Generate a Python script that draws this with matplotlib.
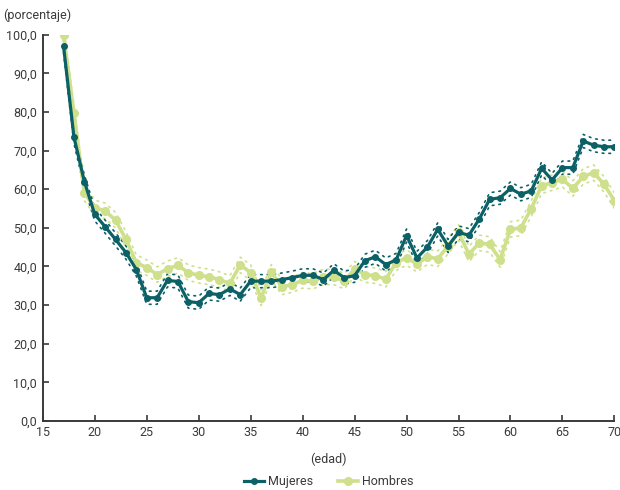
import numpy as np
import matplotlib
matplotlib.use("Agg")
import matplotlib.pyplot as plt
from matplotlib.ticker import FuncFormatter

plt.rcParams['font.family'] = ['Roboto', 'DejaVu Sans']

edad = list(range(17, 71))

mujeres = [97.0, 73.5, 62.0, 53.5, 50.3, 47.0, 43.6, 39.2, 31.9, 31.9,
           36.4, 36.1, 30.9, 30.6, 33.0, 32.7, 34.2, 32.7, 36.2, 36.2,
           36.2, 36.6, 37.1, 37.7, 37.7, 36.6, 39.0, 37.1, 37.6, 41.5,
           42.5, 40.5, 41.7, 48.0, 42.2, 45.0, 49.6, 45.3, 48.8, 48.1,
           52.3, 57.4, 57.8, 60.2, 58.7, 59.6, 65.4, 62.4, 65.6, 65.6,
           72.5, 71.4, 71.0, 71.0]

hombres = [100.0, 79.7, 59.1, 55.2, 54.4, 52.0, 47.0, 41.0, 39.7, 37.9,
           39.4, 40.3, 38.4, 37.7, 37.3, 36.6, 35.6, 40.4, 38.4, 31.9,
           38.5, 34.7, 35.3, 36.4, 36.2, 37.3, 37.3, 36.2, 39.3, 37.9,
           37.6, 36.7, 41.0, 42.3, 40.6, 42.5, 42.0, 45.3, 48.8, 43.2,
           46.1, 45.7, 41.8, 49.6, 50.0, 55.0, 60.9, 61.7, 62.6, 60.2,
           63.3, 64.3, 61.3, 57.0]

# half width of the confidence band
ic_mujeres = 1.7
ic_hombres = 2.0

c_muj = '#0b6166'
c_hom = '#cfe08c'
gris = '#3a3a3a'

x = np.array(edad)
m = np.array(mujeres)
h = np.array(hombres)

fig = plt.figure(figsize=(6.2, 4.9), dpi=100)
ax = fig.add_axes([0.069, 0.141, 0.922, 0.788])

# bands
for y, ic, c in [(h, ic_hombres, c_hom), (m, ic_mujeres, c_muj)]:
    ax.plot(x, y + ic, color=c, lw=1.2, ls=(0, (1, 3)), dash_capstyle='round')
    ax.plot(x, y - ic, color=c, lw=1.2, ls=(0, (1, 3)), dash_capstyle='round')

ax.plot(x, h, color=c_hom, lw=2.6, marker='o', ms=5.5, label='Hombres', zorder=3)
ax.plot(x, m, color=c_muj, lw=2.3, marker='o', ms=4, label='Mujeres', zorder=4)

ax.set_xlim(15, 70)
ax.set_ylim(0, 100)
ax.set_xticks(range(15, 71, 5))
ax.set_yticks(np.arange(0, 101, 10))
ax.yaxis.set_major_formatter(FuncFormatter(lambda v, p: f"{v:.1f}".replace('.', ',')))

for s in ['top', 'right']:
    ax.spines[s].set_visible(False)
for s in ['left', 'bottom']:
    ax.spines[s].set_color(gris)
    ax.spines[s].set_linewidth(1.4)
ax.tick_params(direction='in', length=4, width=1.2, color=gris, labelcolor=gris, labelsize=9, pad=4)

fig.text(0.005, 0.968, '(porcentaje)', fontsize=9, color=gris, ha='left', va='center')
fig.text(0.53, 0.062, '(edad)', fontsize=9, color=gris, ha='center', va='center')

handles, labels = ax.get_legend_handles_labels()
fig.legend(handles[::-1], labels[::-1], loc='center', bbox_to_anchor=(0.53, 0.017), ncol=2,
           frameon=False, fontsize=9, handlelength=1.6, columnspacing=2.0,
           handletextpad=0.3, labelcolor=gris)

fig.savefig('out.png', dpi=100)
